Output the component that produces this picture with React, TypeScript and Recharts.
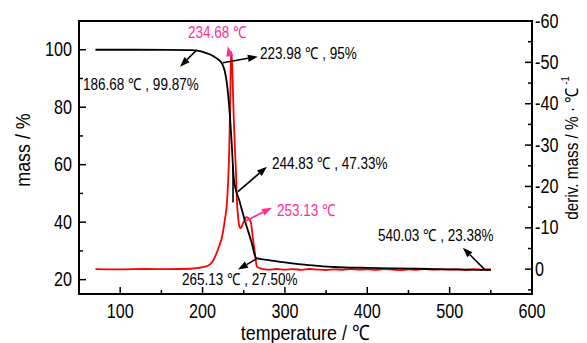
import React from "react";
import {
  LineChart,
  Line,
  XAxis,
  YAxis,
  ReferenceLine,
  ReferenceDot,
  ReferenceArea,
} from "recharts";

const FONT = "'Liberation Sans', Arial, sans-serif";
const PINK = "#ff2e93";

// TG curve (mass %)
const tgTemp = [70, 120, 160, 186.68, 195, 202, 208, 214, 219, 223.98, 227, 229.5, 231.5, 233.5, 235.5, 237, 238, 244.83, 252, 259, 265.13, 280, 300, 320, 340, 360, 380, 400, 430, 460, 490, 520, 540.03, 550];
const tgMass = [100, 100, 99.97, 99.87, 99.6, 99.1, 98.5, 97.6, 96.6, 95, 92.5, 88.5, 83, 76, 67, 59, 55, 47.33, 40, 33.5, 27.5, 26.8, 26.0, 25.3, 24.8, 24.4, 24.2, 24.1, 23.95, 23.8, 23.6, 23.5, 23.38, 23.35];

// DTG curve (deriv. mass)
const dtgTemp = [70, 100, 130, 160, 185, 195, 203, 208, 212, 216, 220, 223.5, 227, 229.6, 231, 232.3, 233.5, 234.68, 235.8, 236.8, 238, 239.3, 240.5, 241.7, 243, 244.5, 246, 248, 250, 253.13, 256, 258.7, 261, 263.6, 266, 270, 280, 290, 300, 310, 320, 330, 340, 350, 360, 370, 380, 390, 400, 410, 420, 430, 440, 450, 460, 470, 480, 490, 500, 510, 520, 530, 540, 550];
const dtgRate = [0, 0.05, -0.05, 0, -0.1, -0.3, -0.6, -1.0, -1.8, -3.4, -5.5, -7.7, -11.8, -16, -21, -28, -40, -52.5, -50, -44, -36, -29, -24, -16.7, -13, -10.5, -9.9, -10.5, -11.5, -12.6, -12.3, -11.3, -7.7, -3.8, -0.6, -0.2, 0.1, -0.05, 0.1, 0, 0.15, -0.05, 0.1, 0.2, 0.05, 0.15, -0.05, 0.1, 0.05, 0.15, 0, 0.1, 0.25, 0.05, 0.15, -0.05, 0.1, 0, 0.1, 0.05, 0.15, 0, 0.1, 0];

// tangent construction line
const tanTemp = [237, 237];
const tanMass = [59.3, 46.8];

const xTicks = [100, 150, 200, 250, 300, 350, 400, 450, 500, 550, 600];
const massTicks = [20, 30, 40, 50, 60, 70, 80, 90, 100];
const rateTicks = [-60, -55, -50, -45, -40, -35, -30, -25, -20, -15, -10, -5, 0, 5];

// annotations: label text, label anchor, arrow tail -> head
const notes = [
  { text: "186.68 ℃ , 99.87%", color: "#000", axis: "mass", at: [54.9, 88.2], from: [193.2, 100], to: [172.6, 94.1] },
  { text: "234.68 ℃", color: PINK, axis: "mass", at: [182.3, 106.1], from: [233.3, 97.6], to: [230.8, 101.2] },
  { text: "223.98 ℃ , 95%", color: "#000", axis: "mass", at: [269.7, 99], from: [224.8, 95.5], to: [267.2, 97.6] },
  { text: "244.83 ℃ , 47.33%", color: "#000", axis: "mass", at: [284.2, 60.7], from: [243, 50.6], to: [278.2, 59.3] },
  { text: "253.13 ℃", color: PINK, axis: "mass", at: [290.3, 44.3], from: [251.5, 40.3], to: [284.2, 45] },
  { text: "265.13 ℃ , 27.50%", color: "#000", axis: "mass", at: [175, 20.3], from: [266, 27.3], to: [243, 23.5] },
  { text: "540.03 ℃ , 23.38%", color: "#000", axis: "mass", at: [412.9, 35.7], from: [542.7, 23.5], to: [516, 31.1] },
];

const tgData = tgTemp.map((t, i) => ({ t, v: tgMass[i] }));
const dtgData = dtgTemp.map((t, i) => ({ t, v: dtgRate[i] }));
const tanData = tanTemp.map((t, i) => ({ t, v: tanMass[i] }));

const MAJOR = 7;
const MINOR = 4;

// the original uses a condensed face, so squeeze the text horizontally
function Txt({ x, y, size, anchor = "start", color = "#000", rot = 0, sx = 0.83, children }: any) {
  return (
    <text
      transform={`translate(${x},${y}) rotate(${rot}) scale(${sx},1)`}
      textAnchor={anchor}
      dominantBaseline="central"
      fontSize={size}
      fontFamily={FONT}
      fill={color}
    >
      {children}
    </text>
  );
}

function BottomTick({ x = 0, y = 0, payload }: any) {
  const v = payload?.value ?? 0;
  const major = v % 100 === 0;
  return (
    <g>
      <line x1={x} x2={x} y1={y} y2={y - (major ? MAJOR : MINOR)} stroke="#000" strokeWidth={1.5} />
      {major && <Txt x={x} y={y + 17} size={19.5} anchor="middle">{v}</Txt>}
    </g>
  );
}

function LeftTick({ x = 0, y = 0, payload }: any) {
  const v = payload?.value ?? 0;
  const major = v % 20 === 0;
  return (
    <g>
      <line x1={x} x2={x + (major ? MAJOR : MINOR)} y1={y} y2={y} stroke="#000" strokeWidth={1.5} />
      {major && <Txt x={x - 7} y={y} size={19.5} anchor="end">{v}</Txt>}
    </g>
  );
}

function RightTick({ x = 0, y = 0, payload }: any) {
  const v = payload?.value ?? 0;
  const major = v % 10 === 0;
  return (
    <g>
      <line x1={x} x2={x - (major ? MAJOR : MINOR)} y1={y} y2={y} stroke="#000" strokeWidth={1.5} />
      {major && <Txt x={x + 3} y={y} size={19.5} anchor="start">{v}</Txt>}
    </g>
  );
}

const arrowShape = (color: string) => (p: any) => {
  const { x1, y1, x2, y2 } = p;
  const a = Math.atan2(y2 - y1, x2 - x1);
  const len = 10;
  const w = 3.6;
  const bx = x2 - len * Math.cos(a);
  const by = y2 - len * Math.sin(a);
  const px = -Math.sin(a) * w;
  const py = Math.cos(a) * w;
  return (
    <g>
      <line x1={x1} y1={y1} x2={bx} y2={by} stroke={color} strokeWidth={1.6} />
      <polygon points={`${x2},${y2} ${bx + px},${by + py} ${bx - px},${by - py}`} fill={color} />
    </g>
  );
};

const labelShape = (text: string, color: string) => (p: any) => (
  <Txt x={p.cx} y={p.cy} size={16.5} sx={0.82} color={color}>
    {text}
  </Txt>
);

export default function App() {
  return (
    <LineChart width={579} height={335} margin={{ top: 13, right: 0, bottom: 0, left: 0 }}>
      <XAxis
        dataKey="t"
        type="number"
        domain={[50, 600]}
        ticks={xTicks}
        interval={0}
        allowDataOverflow
        height={49}
        tickSize={0}
        tickMargin={0}
        tickLine={false}
        tick={<BottomTick />}
        axisLine={{ stroke: "#000", strokeWidth: 2 }}
        label={{
          content: () => (
            <Txt x={297} y={324} size={21} sx={0.85} anchor="middle">
              temperature / ℃
            </Txt>
          ),
        }}
      />
      <YAxis
        yAxisId="mass"
        orientation="left"
        type="number"
        domain={[15, 110]}
        ticks={massTicks}
        interval={0}
        allowDataOverflow
        width={71}
        tickSize={0}
        tickMargin={0}
        tickLine={false}
        tick={<LeftTick />}
        axisLine={{ stroke: "#000", strokeWidth: 2 }}
        label={{
          content: () => (
            <Txt x={14} y={142} rot={-90} size={21} sx={0.85} anchor="middle">
              mass / %
            </Txt>
          ),
        }}
      />
      <YAxis
        yAxisId="rate"
        orientation="right"
        type="number"
        domain={[-60, 6]}
        reversed
        ticks={rateTicks}
        interval={0}
        allowDataOverflow
        width={55}
        tickSize={0}
        tickMargin={0}
        tickLine={false}
        tick={<RightTick />}
        axisLine={{ stroke: "#000", strokeWidth: 2 }}
        label={{
          content: () => (
            <Txt x={564} y={140} rot={-90} size={18} sx={0.85} anchor="middle">
              deriv. mass / % · ℃
              <tspan dx={3} dy={-7} fontSize={11}>-1</tspan>
            </Txt>
          ),
        }}
      />
      <ReferenceArea yAxisId="mass" x1={50} x2={600} y1={15} y2={110} fill="none" stroke="#000" strokeWidth={2} ifOverflow="visible" />
      <Line yAxisId="rate" data={dtgData} dataKey="v" type="monotone" stroke="#ff0000" strokeWidth={1.8} dot={false} isAnimationActive={false} />
      <Line yAxisId="mass" data={tgData} dataKey="v" type="monotone" stroke="#000" strokeWidth={1.8} dot={false} isAnimationActive={false} />
      <Line yAxisId="mass" data={tanData} dataKey="v" type="linear" stroke="#000" strokeWidth={1.6} dot={false} isAnimationActive={false} />
      {notes.map((n, i) => (
        <ReferenceLine
          key={`a${i}`}
          yAxisId={n.axis}
          segment={[{ x: n.from[0], y: n.from[1] }, { x: n.to[0], y: n.to[1] }]}
          ifOverflow="visible"
          shape={arrowShape(n.color)}
        />
      ))}
      {notes.map((n, i) => (
        <ReferenceDot key={`l${i}`} yAxisId={n.axis} x={n.at[0]} y={n.at[1]} r={0} ifOverflow="visible" shape={labelShape(n.text, n.color)} />
      ))}
    </LineChart>
  );
}
